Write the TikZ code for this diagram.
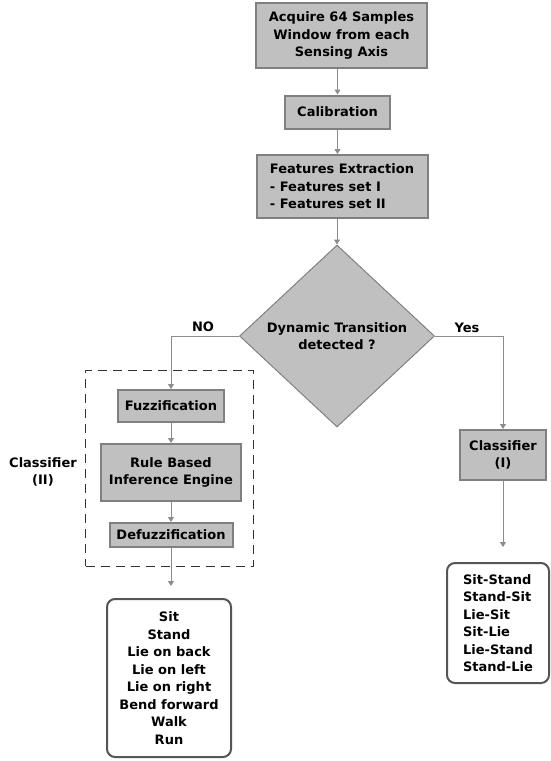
\documentclass[tikz,border=0pt]{standalone}
\usepackage{fontspec}
\setmainfont{DejaVu Sans}
\usetikzlibrary{positioning,shapes.geometric,arrows.meta}
\definecolor{boxfill}{HTML}{C0C0C0}
\definecolor{boxedge}{HTML}{808080}
\definecolor{lncol}{HTML}{8C8C8C}
\definecolor{outedge}{HTML}{555555}
\tikzset{%
  txt/.style={font=\bfseries\fontsize{13}{17.5}\selectfont,text=black},
  blk/.style={txt,draw=boxedge,fill=boxfill,line width=2pt,align=center,inner sep=0pt},
  dec/.style={txt,diamond,draw=boxedge,fill=boxfill,line width=1pt,align=center,inner sep=0pt},
  outbox/.style={txt,draw=outedge,fill=white,line width=2pt,rounded corners=8pt,inner sep=0pt},
  grpbox/.style={draw=black!80,line width=1pt,dash pattern=on 9pt off 6pt,inner sep=0pt},
  ln/.style={draw=lncol,line width=1pt,-{Triangle[length=5pt,width=6pt]}}
}
\begin{document}
\begin{tikzpicture}[x=1pt,y=-1pt]
  \useasboundingbox (0,0) rectangle (551,761);

  % main chain
  \node[blk,minimum width=171pt,minimum height=65pt] (acq) at (341.5,35.5)
    {Acquire 64 Samples\\Window from each\\Sensing Axis};
  \node[blk,minimum width=105pt,minimum height=33pt] (cal) at (337.5,112) {Calibration};
  \node[blk,minimum width=171pt,minimum height=63pt,align=left] (fex) at (342,186.5)
    {Features Extraction\\- Features set I\\- Features set II};
  \node[dec,minimum width=195pt,minimum height=182pt] (dtr) at (337,336)
    {Dynamic Transition\\detected ?};

  \draw[ln] (acq.south -| cal.north) -- (cal.north);
  \draw[ln] (cal) -- (fex.north -| cal.south);
  \draw[ln] (fex.south -| dtr.north) -- (dtr.north);

  % classifier II
  \node[grpbox,minimum width=167.5pt,minimum height=196pt] (grp) at (169.25,468) {};
  \node[txt,align=center] (grplb) at (43,472) {Classifier\\(II)};
  \node[blk,minimum width=106pt,minimum height=32pt] (fuz) at (171,406) {Fuzzification};
  \node[blk,minimum width=140pt,minimum height=57pt] (rbe) at (171,472.5)
    {Rule Based\\Inference Engine};
  \node[blk,minimum width=123pt,minimum height=24pt] (dfz) at (171,535) {Defuzzification};

  \draw[ln] (dtr.west) -| (fuz.north);
  \draw[ln] (fuz) -- (rbe);
  \draw[ln] (rbe) -- (dfz);

  \node[txt] (nolb) at (203,327) {NO};
  \node[txt] (yeslb) at (467,328) {Yes};

  % classifier I
  \node[blk,minimum width=86pt,minimum height=50pt] (cl1) at (503,455) {Classifier\\(I)};
  \draw[ln] (dtr.east) -| (cl1.north);

  % outputs
  \coordinate (o2in) at (171,586);
  \coordinate (o1in) at (503,547);
  \draw[ln] (dfz) -- (o2in);
  \draw[ln] (cl1) -- (o1in);

  \node[outbox,minimum width=124pt,minimum height=158pt,align=center] (stat) at (169,678)
    {Sit\\Stand\\Lie on back\\Lie on left\\Lie on right\\Bend forward\\Walk\\Run};
  \node[outbox,minimum width=102pt,minimum height=120pt,align=left] (trans) at (498,623)
    {Sit-Stand\\Stand-Sit\\Lie-Sit\\Sit-Lie\\Lie-Stand\\Stand-Lie};
\end{tikzpicture}
\end{document}
